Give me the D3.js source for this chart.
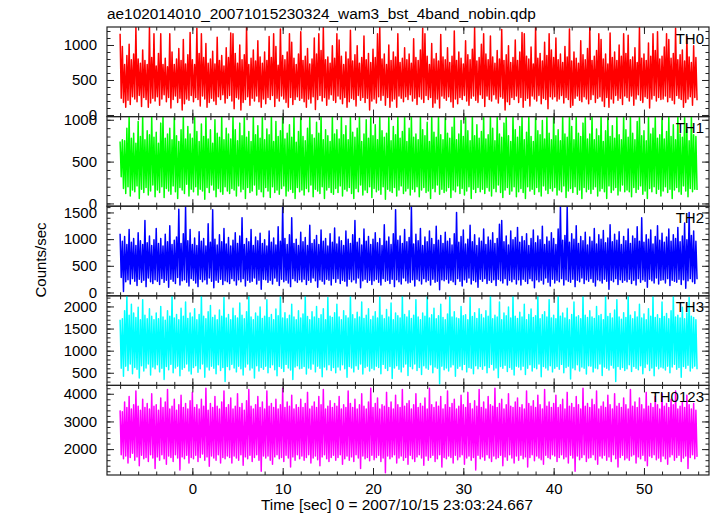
<!DOCTYPE html>
<html><head><meta charset="utf-8">
<script src="https://cdn.jsdelivr.net/npm/d3@7"></script>
<style>
body{margin:0;background:#fff}
text{font-family:"Liberation Sans",Arial,Helvetica,sans-serif;fill:#000}
</style>
</head><body>
<svg id="chart" width="717" height="516"></svg>
<script>
const title = "ae102014010_20071015230324_wam3_bst_4band_nobin.qdp";
const xLabel = "Time [sec] 0 = 2007/10/15 23:03:24.667";
const yLabel = "Counts/sec";
const bandNames = ["TH0","TH1","TH2","TH3","TH0123"];
const bandColors = ["#ff0000","#00ff00","#0000ff","#00ffff","#ff00ff"];
// light curves read as per-bin upper / lower envelopes (bins of 0.25 s from t = -8 s)
const tStart = -8, binWidth = 0.25;
const xMajorTicks = [0,10,20,30,40,50];
const xMinorTicks = [-8,-6,-4,-2,0,2,4,6,8,10,12,14,16,18,20,22,24,26,28,30,32,34,36,38,40,42,44,46,48,50,52,54,56];
const yDomains = [[-23,1257],[-33,1038],[-62,1617],[214,2241],[1065,4302]];
const yMajorTicks = [[0,500,1000],[0,500,1000],[0,500,1000,1500],[500,1000,1500,2000],[2000,3000,4000]];
const yMinorStep = [100,100,100,100,200];

const th0High = [
1160,980,720,850,1010,790,870,1250,800,740,930,780,720,1250,820,1160,
700,880,1160,720,810,690,1160,900,720,800,950,780,1080,730,860,1180,
790,720,1240,880,1160,820,1020,740,800,910,730,1110,780,850,700,960,
820,1170,1160,880,740,1000,790,860,1250,720,810,930,770,1060,830,740,
900,780,1120,820,1160,980,710,1230,850,790,900,1160,1040,810,720,870,
1190,780,840,950,730,800,1100,870,1160,920,1250,790,830,740,990,810,
1160,1070,840,720,900,800,1210,770,860,990,740,820,1130,790,880,750,
940,820,1160,1250,800,870,720,1000,780,900,830,1160,750,810,960,790,
870,740,1090,820,780,930,1240,1160,840,720,1020,800,880,770,1150,830,
790,960,750,840,1200,780,900,810,730,1060,860,790,940,1250,770,820,
1010,1160,870,790,1130,830,740,920,800,1220,780,860,990,750,820,1070,
780,900,1180,1160,840,800,970,730,1250,810,880,770,1040,850,1160,930,
820,1100,790,870,750,980,830,1230,770,900,810,740,1060,860,790,950,
1250,780,840,920,1160,1080,800,870,730,1170,820,900,780,1000,840,1160,
880,1140,790,830,960,750,1250,810,870,780,1030,840,1160,920,1190,800,
840,970,1160,1080,810,880,1240,790,860,930,770,1120,830,750,990,820];
const th0Low = [
240,180,110,210,150,260,230,190,280,120,250,220,110,170,240,200,
260,140,230,290,190,250,100,220,270,180,240,70,160,230,210,280,
190,250,220,130,270,230,110,180,240,200,150,260,220,290,170,240,
280,200,90,250,230,70,180,220,260,140,240,200,270,190,110,230,
160,250,220,280,120,240,200,270,230,180,110,250,150,220,260,210,
240,190,110,230,170,260,80,220,280,200,250,140,230,290,210,180,
270,230,160,250,110,190,240,220,130,280,210,250,180,240,70,200,
230,170,260,210,280,140,250,110,200,230,110,270,240,190,260,220,
290,200,240,150,260,230,180,280,220,250,110,170,230,100,270,240,
210,260,190,110,230,160,250,220,280,200,140,240,270,210,180,290,
240,120,270,220,200,290,230,170,260,240,70,190,150,250,220,270,
180,250,110,210,240,130,270,230,200,280,160,240,220,90,260,230,
260,200,230,280,170,250,220,110,140,240,270,210,190,260,230,160,
220,290,180,240,260,200,120,250,110,230,170,280,210,240,150,270,
250,200,270,140,230,290,210,180,260,240,100,230,280,200,250,220,
230,270,190,250,210,160,280,240,220,110,180,230,260,140,250,210];

const th1High = [
740,760,750,900,1050,780,840,720,980,800,1050,760,870,820,1050,790,
850,720,960,1050,780,830,900,760,1050,810,740,880,1050,770,920,830,
780,1050,860,740,950,800,1050,770,880,720,1000,840,790,1050,760,900,
830,770,1050,880,750,960,810,1050,790,860,740,1050,820,930,780,1050,
760,890,820,1050,740,980,800,870,1050,770,840,940,790,1050,730,860,
1050,800,750,900,1050,820,780,970,840,1050,760,880,810,740,1050,830,
880,770,1050,820,930,760,1050,850,790,900,1050,740,830,1000,780,1050,
810,940,760,1050,870,790,840,1050,750,920,820,1050,780,860,1050,740,
900,1050,790,830,760,1050,880,810,970,740,1050,850,790,1050,820,760,
1050,840,780,910,1050,760,830,990,800,1050,870,750,1050,810,940,780,
860,1050,770,820,1050,900,750,1050,830,790,960,1050,810,740,1050,880,
790,920,1050,760,850,1050,800,740,1050,870,820,990,770,1050,840,760,
1050,810,880,750,1050,830,790,1050,920,760,1050,840,800,960,1050,770,
830,1050,760,890,810,1050,740,870,1050,800,930,780,1050,820,760,1050,
880,790,1050,840,760,980,1050,810,870,750,1050,830,900,1050,780,820,
1050,770,860,1050,800,940,760,1050,830,790,1050,880,750,1050,820,800];
const th1Low = [
320,180,120,200,90,160,140,210,60,170,130,190,100,150,220,80,
160,130,200,70,180,150,110,210,140,60,190,160,120,230,90,170,
140,200,100,170,150,50,190,130,220,160,80,180,140,110,200,150,
120,180,160,90,210,140,170,60,190,130,150,220,100,170,140,80,
190,150,70,200,130,160,110,180,210,90,150,170,130,60,190,140,
160,100,180,140,220,80,170,150,120,200,60,160,190,130,110,180,
130,210,90,170,150,190,120,60,180,140,220,100,160,130,200,70,
180,140,160,110,200,50,170,150,130,190,90,160,210,120,150,180,
100,170,140,200,80,160,190,130,150,60,180,140,220,110,170,130,
150,190,70,160,140,210,120,180,100,150,200,60,170,130,190,140,
170,120,190,150,90,180,140,220,130,70,160,190,110,150,200,80,
140,180,130,60,200,150,170,110,190,140,90,210,160,120,180,150,
190,100,160,140,210,70,150,180,130,200,110,160,60,190,140,170,
120,170,200,90,150,180,140,60,210,130,160,190,100,150,220,140,
160,140,80,190,130,170,210,110,150,60,180,140,200,120,170,90,
150,200,130,170,60,160,190,140,110,210,150,80,180,140,170,160];

const th2High = [
1100,960,1050,900,1180,940,1010,880,1120,970,900,1350,930,1060,880,990,
1200,920,1010,870,1090,950,1250,900,980,1040,1560,920,1100,1600,970,1180,
900,1020,880,1140,960,1010,870,1290,940,1550,1000,890,1080,950,1200,910,
1030,870,980,1120,920,1060,1400,900,1010,950,1180,880,1040,970,1110,920,
990,870,1150,940,1020,890,1230,960,1617,1010,900,1080,1400,920,1000,880,
1130,950,1030,880,1260,920,990,1070,900,1170,960,1010,870,1100,940,1210,
910,1040,970,880,1150,1000,920,1080,1350,940,1010,890,1190,960,1050,900,
1000,1120,930,1010,880,1270,960,1040,900,1100,1550,980,1060,920,1180,950,
1030,1617,910,1090,970,1200,880,1040,950,1150,1010,900,1240,980,1070,920,
1130,960,1010,890,1100,1500,940,1050,1170,910,1000,1260,950,1080,880,1020,
960,1190,900,1040,980,1120,920,1010,1280,1350,950,1060,890,1150,990,1030,
1220,940,1050,970,1100,880,1010,1170,930,1060,990,1240,900,1040,960,1120,
1010,900,1190,1617,980,1070,1617,940,1100,1000,1250,920,1050,970,1130,890,
1040,960,1200,910,1080,1000,1160,930,1020,1270,950,1090,980,1140,900,1050,
970,1190,920,1060,1010,1230,960,1400,940,1080,1000,1170,910,1050,1250,980,
1110,940,1040,1190,960,1080,1010,1220,950,1060,1300,990,1500,1070,1150,960];
const th2Low = [
280,20,200,240,160,260,210,130,250,190,230,110,270,200,170,240,
210,150,260,190,230,100,250,210,170,280,140,220,240,190,120,260,
230,180,110,250,200,240,160,270,210,90,230,190,250,150,220,200,
170,260,220,140,240,200,260,120,230,190,210,270,160,230,60,250,
240,190,230,160,270,210,130,250,200,230,180,110,260,220,190,240,
200,250,150,230,190,270,220,100,240,210,160,250,230,140,260,190,
260,170,230,210,120,250,200,240,180,270,90,220,250,190,230,150,
220,250,190,140,260,210,230,170,250,110,240,200,160,270,220,180,
190,240,120,250,220,160,260,200,230,140,250,190,210,50,240,220,
250,180,230,200,150,260,210,120,240,190,270,160,230,200,100,250,
210,260,170,230,190,240,130,250,220,180,260,140,230,200,250,160,
240,140,250,210,170,260,220,90,240,200,230,160,270,190,120,250,
180,230,200,260,140,240,210,190,250,110,230,200,270,170,240,210,
260,190,120,240,220,180,250,210,60,230,200,260,150,240,190,230,
200,250,170,230,140,260,190,240,210,100,250,220,180,270,160,230,
240,180,260,130,230,210,190,250,150,240,80,220,260,200,170,250];

const th3High = [
1700,1720,1900,2250,1800,2050,1850,1750,1980,1700,2150,1800,1720,1950,1780,1700,
1850,1720,2000,1760,1690,1900,1780,2250,1740,1820,1700,1960,1780,2100,1730,1850,
1760,1950,1700,1820,2250,1780,1720,1880,2020,1750,1800,1700,1920,1780,2200,1740,
1820,1700,1960,1790,1740,2080,1800,1720,1880,2250,1760,1700,1850,1780,1990,1730,
1780,2150,1750,1820,1700,1940,1790,2250,1740,1860,1720,1800,2050,1760,1700,1900,
1740,1830,2250,1770,1700,1880,1760,2000,1730,1810,1950,1700,2200,1780,1750,1860,
2050,1760,1700,1900,1790,1740,2250,1810,1720,1870,1760,2100,1730,1800,1950,1700,
1780,1880,1740,2250,1800,1720,1930,1760,2080,1700,1850,1790,1740,2250,1820,1760,
1900,1730,1800,2150,1760,1700,1850,1780,2250,1740,1810,1960,1720,1790,2050,1750,
1700,1830,2250,1760,1880,1740,1720,2000,1790,1810,1700,2200,1770,1860,1730,1950,
1820,1740,1900,1780,2250,1720,1800,1760,2100,1700,1850,1790,1990,1740,2250,1780,
1730,1870,1760,2050,1700,1820,1940,1750,1790,2250,1720,1810,1880,1760,2150,1740,
1800,1720,2250,1780,1850,1740,1960,1700,1820,2100,1760,1790,1720,2250,1800,1750,
1900,1760,1730,2000,1790,1820,1700,2250,1770,1840,1740,1920,2150,1760,1710,1860,
1750,2250,1800,1720,1880,1760,2050,1740,1830,1700,1950,1780,2250,1750,1810,1730,
2100,1770,1840,1720,1900,2250,1760,1800,1740,1980,1720,1850,2200,1780,1750,1700];
const th3Low = [
600,420,650,550,700,480,620,580,380,660,540,610,700,450,630,590,
680,520,600,350,640,570,690,500,610,650,430,580,620,700,540,470,
620,660,510,590,700,400,630,560,650,600,480,680,550,620,300,640,
570,690,610,520,650,590,450,630,700,560,610,380,660,540,620,580,
650,500,620,680,570,430,640,600,530,690,610,560,350,630,660,590,
600,640,470,610,580,700,520,650,600,410,630,570,680,550,620,500,
630,560,680,590,400,640,610,520,660,580,700,470,620,650,540,600,
570,650,620,480,690,600,550,640,370,610,660,580,520,630,700,440,
640,590,700,550,620,460,660,610,580,680,500,630,600,250,650,570,
610,540,630,680,420,600,650,570,690,520,620,600,480,660,590,640,
580,660,500,620,690,560,610,390,640,600,670,530,620,580,450,650,
630,570,650,460,600,680,540,620,590,700,410,640,610,560,660,520,
600,640,580,690,500,620,650,360,610,570,680,540,630,600,470,660,
650,520,610,590,700,440,630,600,560,670,610,300,640,580,620,550,
590,680,530,640,600,570,660,480,620,700,550,610,430,650,590,630,
610,560,650,500,630,690,580,620,400,640,600,670,540,610,650,580];

const th0123High = [
3400,3350,3700,3500,3900,3450,3600,4100,3550,3400,3800,3500,3650,3450,4000,3550,
3600,3400,3850,3500,3700,4150,3450,3550,3800,3400,3600,3950,3500,3650,3450,3750,
4050,3500,3600,3450,3800,3550,4200,3400,3650,3500,3900,3550,3450,3700,4100,3500,
3600,3850,3450,3550,4000,3500,3650,3400,3750,4150,3550,3450,3600,3900,3500,3700,
3450,4100,3550,3650,3500,3800,3450,3600,4200,3500,3700,3550,3950,3450,3600,3500,
3800,3500,3650,4050,3450,3550,3700,3500,3900,3600,4150,3450,3550,3750,3500,3650,
3550,3900,3450,3600,3500,4100,3650,3500,3800,3450,3600,4000,3550,3450,3700,4200,
3500,3650,3850,3450,3600,3550,4050,3500,3700,3450,3950,3600,3500,4150,3550,3650,
3750,3450,3600,4000,3500,3650,3550,3850,3450,4200,3600,3500,3700,3550,3900,3450,
3600,4100,3500,3650,3800,3450,3550,3950,3600,3500,4050,3650,3450,3750,3550,4150,
3500,3700,3450,3900,3600,3550,4200,3500,3650,3800,3450,3600,4000,3550,3500,3700,
3850,3500,3600,3450,4100,3650,3550,3750,3500,3950,3600,3450,4150,3550,3700,3500,
3650,3950,3500,3600,3800,3450,4050,3550,3650,3500,3900,3600,3450,4200,3550,3650,
3500,3800,3600,4100,3450,3550,3700,3500,3950,3600,3450,4000,3550,3650,3500,3850,
3600,3450,4150,3550,3700,3500,3850,3600,3450,4050,3550,3650,3500,3900,3600,3450,
4000,3550,3650,3500,3800,3600,4100,3450,3550,3700,3500,3950,3600,3450,3650,3400];
const th0123Low = [
1800,1650,1750,1500,1700,1850,1600,1720,1400,1780,1650,1700,1550,1800,1680,1300,
1720,1600,1800,1650,1450,1750,1700,1550,1800,1680,1250,1720,1650,1780,1500,1700,
1650,1780,1550,1700,1820,1600,1720,1380,1750,1680,1600,1800,1500,1700,1650,1750,
1700,1500,1750,1680,1600,1800,1420,1720,1650,1780,1550,1700,1800,1600,1200,1750,
1680,1750,1600,1450,1720,1800,1650,1700,1550,1780,1680,1350,1720,1600,1800,1650,
1750,1600,1700,1800,1500,1680,1750,1620,1400,1720,1800,1650,1550,1700,1780,1600,
1700,1800,1450,1650,1750,1600,1720,1550,1800,1680,1300,1750,1650,1700,1580,1780,
1620,1700,1780,1550,1680,1150,1750,1650,1720,1800,1500,1680,1750,1600,1700,1450,
1780,1650,1550,1720,1800,1680,1420,1750,1600,1700,1780,1550,1650,1800,1350,1700,
1650,1750,1700,1500,1780,1620,1720,1800,1450,1680,1750,1600,1700,1250,1780,1650,
1720,1600,1800,1680,1550,1750,1650,1700,1780,1400,1720,1600,1800,1680,1500,1750,
1600,1780,1650,1720,1350,1700,1800,1580,1750,1680,1620,1450,1780,1700,1650,1800,
1750,1550,1700,1800,1650,1720,1500,1780,1680,1200,1750,1620,1700,1800,1550,1680,
1700,1800,1620,1450,1750,1680,1780,1600,1720,1550,1800,1650,1350,1700,1780,1620,
1680,1600,1750,1800,1500,1720,1650,1780,1580,1400,1750,1700,1800,1620,1680,1550,
1750,1650,1450,1720,1800,1600,1700,1780,1550,1680,1750,1300,1700,1800,1650,1720];

const seriesHigh = [th0High, th1High, th2High, th3High, th0123High];
const seriesLow = [th0Low, th1Low, th2Low, th3Low, th0123Low];

// ---- layout ----
const L = 107, R = 709, T = 27, B = 475;
const nP = seriesHigh.length;
const pH = (B - T) / nP;
const axisColor = "#222";
const FONT = '"Liberation Sans",Arial,sans-serif';
const svg = d3.select("#chart");

const x = d3.scaleLinear().domain([-9.45, 57.2]).range([L, R]);

svg.append("text").attr("x", L).attr("y", 19).style("font-size", "15.4px").text(title);

seriesHigh.forEach((hi, p) => {
  const lo = seriesLow[p];
  const top = T + p * pH, bot = top + pH;
  const y = d3.scaleLinear().domain(yDomains[p]).range([bot, top]);
  const g = svg.append("g");
  const cid = "clip" + p;
  svg.append("clipPath").attr("id", cid).append("rect")
    .attr("x", L).attr("y", top).attr("width", R - L).attr("height", pH);
  // zig-zag through each bin's upper and lower envelope
  const pts = [];
  hi.forEach((h, i) => {
    pts.push([tStart + binWidth * i, h]);
    pts.push([tStart + binWidth * (i + 0.5), lo[i]]);
  });
  const line = d3.line().x(d => x(d[0])).y(d => y(d[1]));
  g.append("path").datum(pts).attr("clip-path", `url(#${cid})`)
    .attr("fill", "none").attr("stroke", bandColors[p]).attr("stroke-width", 1.5)
    .attr("stroke-linejoin", "round").attr("d", line);

  const yMinor = d3.range(Math.ceil(yDomains[p][0] / yMinorStep[p]) * yMinorStep[p], yDomains[p][1], yMinorStep[p]);
  const mk = (axis, tr) => {
    const a = g.append("g").attr("transform", tr).call(axis);
    a.select(".domain").remove();
    a.selectAll("line").attr("stroke", axisColor).attr("stroke-width", 1);
    a.selectAll("text").style("font-size", "15px").style("font-family", FONT).attr("fill", "#000");
    return a;
  };
  mk(d3.axisLeft(y).tickValues(yMajorTicks[p]).tickSize(-7).tickPadding(10).tickFormat(d3.format("d")), `translate(${L},0)`);
  mk(d3.axisLeft(y).tickValues(yMinor).tickSize(-3.5).tickFormat(""), `translate(${L},0)`);
  mk(d3.axisRight(y).tickValues(yMajorTicks[p]).tickSize(-7).tickFormat(""), `translate(${R},0)`);
  mk(d3.axisRight(y).tickValues(yMinor).tickSize(-3.5).tickFormat(""), `translate(${R},0)`);
  mk(d3.axisTop(x).tickValues(xMajorTicks).tickSize(-7).tickFormat(""), `translate(0,${top})`);
  mk(d3.axisTop(x).tickValues(xMinorTicks).tickSize(-3.5).tickFormat(""), `translate(0,${top})`);
  mk(d3.axisBottom(x).tickValues(xMajorTicks).tickSize(-7).tickPadding(8)
      .tickFormat(p === nP - 1 ? d3.format("d") : ""), `translate(0,${bot})`);
  mk(d3.axisBottom(x).tickValues(xMinorTicks).tickSize(-3.5).tickFormat(""), `translate(0,${bot})`);

  g.append("rect").attr("x", L).attr("y", top).attr("width", R - L).attr("height", pH)
    .attr("fill", "none").attr("stroke", axisColor).attr("stroke-width", 1.2);

  g.append("text").attr("x", 704).attr("y", top + 16.5).attr("text-anchor", "end")
    .style("font-size", "15px").text(bandNames[p]);
});

svg.append("text").attr("x", 397).attr("y", 510).attr("text-anchor", "middle")
  .style("font-size", "15.4px").text(xLabel);
svg.append("text").attr("transform", "translate(46,260) rotate(-90)").attr("text-anchor", "middle")
  .style("font-size", "15px").text(yLabel);
</script>
</body></html>
